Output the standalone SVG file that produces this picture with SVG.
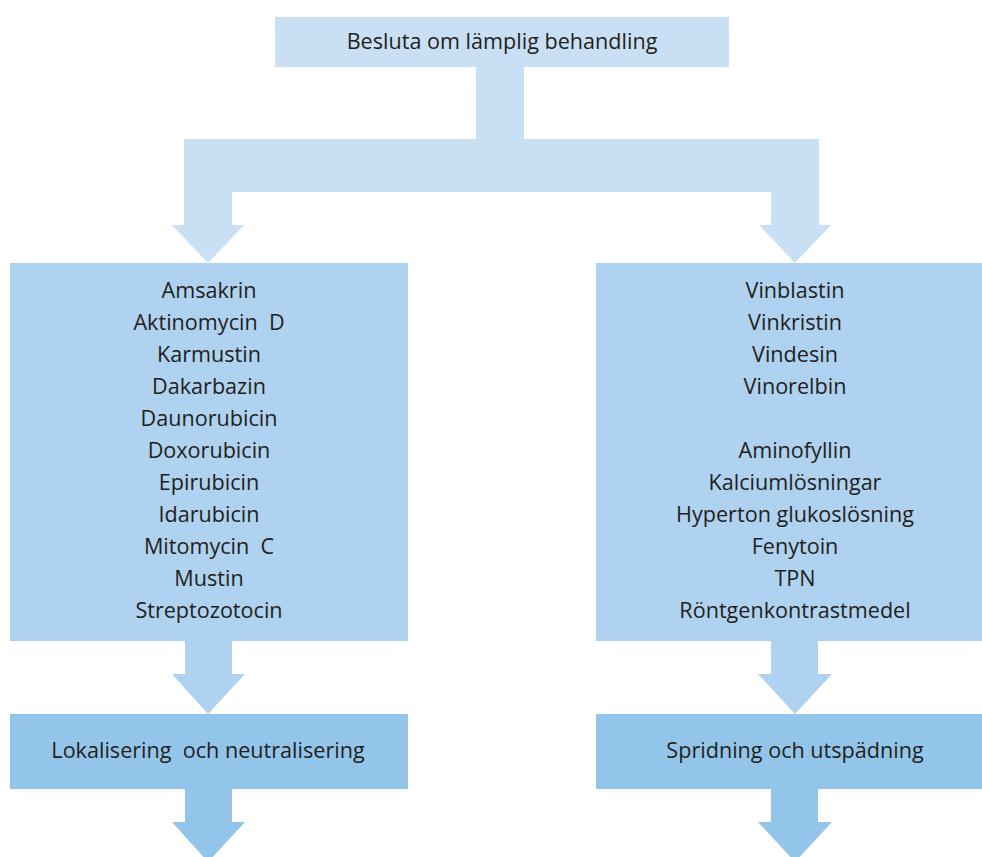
<svg xmlns="http://www.w3.org/2000/svg" width="982" height="857" viewBox="0 0 982 857">
<style>
.t{font-family:"Open Sans","Liberation Sans",sans-serif;font-size:21.6px;fill:#231f20;text-anchor:middle;white-space:pre}
.c1{fill:#c9e0f4}.c2{fill:#aed2ef}.c3{fill:#93c5ea}
</style>
<rect width="982" height="857" fill="#fff"/>
<g id="connectors">
<polygon class="c1" points="476,67 524,67 524,139 819,139 819,225 831,225 795,263 759,225 771,225 771,192 232,192 232,225 244,225 208,263 172,225 184,225 184,139 476,139"/>
<polygon class="c2" points="185,641 232,641 232,674 245,674 208,714 172,674 185,674"/>
<polygon class="c2" points="771,641 818,641 818,674 832,674 795,714 758,674 771,674"/>
<polygon class="c3" points="185,789 232,789 232,822 245,822 208,862 172,822 185,822"/>
<polygon class="c3" points="771,789 818,789 818,822 832,822 795,862 758,822 771,822"/>
</g>
<g id="top"><rect class="c1" x="275" y="17" width="454" height="50"/><text class="t" x="502" y="49">Besluta om lämplig behandling</text></g>
<g id="left"><rect class="c2" x="10" y="263" width="398" height="378"/>
<text class="t" x="209" y="298">Amsakrin</text>
<text class="t" x="209" y="330" xml:space="preserve">Aktinomycin  D</text>
<text class="t" x="209" y="362">Karmustin</text>
<text class="t" x="209" y="394">Dakarbazin</text>
<text class="t" x="209" y="426">Daunorubicin</text>
<text class="t" x="209" y="458">Doxorubicin</text>
<text class="t" x="209" y="490">Epirubicin</text>
<text class="t" x="209" y="522">Idarubicin</text>
<text class="t" x="209" y="554" xml:space="preserve">Mitomycin  C</text>
<text class="t" x="209" y="586">Mustin</text>
<text class="t" x="209" y="618">Streptozotocin</text>
</g>
<g id="right"><rect class="c2" x="596" y="263" width="386" height="378"/>
<text class="t" x="795" y="298">Vinblastin</text>
<text class="t" x="795" y="330">Vinkristin</text>
<text class="t" x="795" y="362">Vindesin</text>
<text class="t" x="795" y="394">Vinorelbin</text>
<text class="t" x="795" y="458">Aminofyllin</text>
<text class="t" x="795" y="490">Kalciumlösningar</text>
<text class="t" x="795" y="522">Hyperton glukoslösning</text>
<text class="t" x="795" y="554">Fenytoin</text>
<text class="t" x="795" y="586">TPN</text>
<text class="t" x="795" y="618">Röntgenkontrastmedel</text>
</g>
<g id="bl"><rect class="c3" x="10" y="714" width="398" height="75"/><text class="t" x="208" y="758" xml:space="preserve">Lokalisering  och neutralisering</text></g>
<g id="br"><rect class="c3" x="596" y="714" width="386" height="75"/><text class="t" x="795" y="758">Spridning och utspädning</text></g>
</svg>
